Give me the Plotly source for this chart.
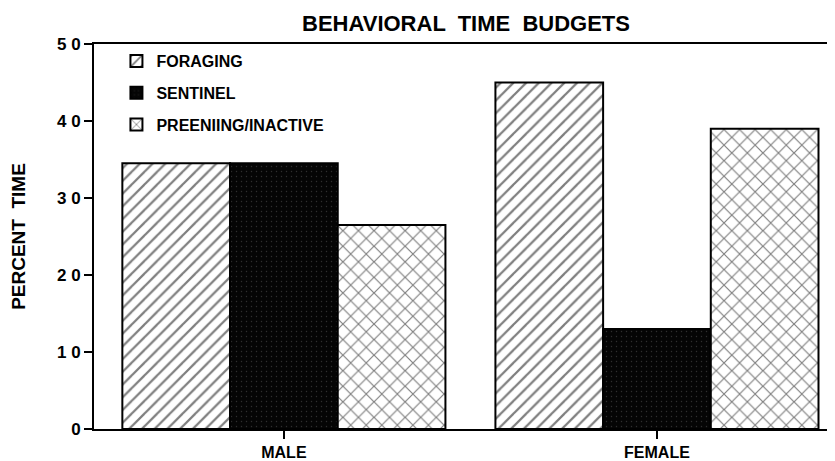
import plotly.graph_objs as go

# data
sexes = ["MALE", "FEMALE"]
foraging = [34.5, 45.0]
sentinel = [34.5, 13.0]
preening = [26.5, 39.0]

y_ticks = [0, 10, 20, 30, 40, 50]
y_ticktext = ["<b>0</b>", "<b>1 0</b>", "<b>2 0</b>", "<b>3 0</b>", "<b>4 0</b>", "<b>5 0</b>"]

FONT = "Liberation Sans, Arial, Helvetica, sans-serif"

fig = go.Figure()

# 1. foraging - diagonal hatch
fig.add_trace(go.Bar(
    x=sexes, y=foraging, name="FORAGING",
    legendgroup="f",
    marker=dict(
        color="white",
        line=dict(color="black", width=2),
        pattern=dict(shape="/", size=9, solidity=0.25,
                     fgcolor="black", bgcolor="white", fillmode="overlay"),
    ),
))
# 2. sentinel - black with light specks
fig.add_trace(go.Bar(
    x=sexes, y=sentinel, name="SENTINEL",
    legendgroup="s",
    marker=dict(
        color="#050505",
        line=dict(color="black", width=2),
        pattern=dict(shape=".", size=5, solidity=0.06,
                     fgcolor="#5a5a5a", bgcolor="#050505", fillmode="overlay"),
    ),
))
# 3. preening/inactive - short dashes
fig.add_trace(go.Bar(
    x=sexes, y=preening, name="PREENIING/INACTIVE",
    legendgroup="p",
    marker=dict(
        color="white",
        line=dict(color="black", width=2),
        pattern=dict(shape="x", size=11, solidity=0.2,
                     fgcolor="black", bgcolor="white", fillmode="overlay"),
    ),
))

fig.update_layout(
    width=835, height=461,
    margin=dict(l=86, r=1, t=36, b=40),
    paper_bgcolor="white",
    plot_bgcolor="white",
    barmode="group",
    bargap=0.134,
    bargroupgap=0,
    font=dict(family=FONT, color="black", size=14, weight="bold"),
    title=dict(
        text="<b>BEHAVIORAL  TIME  BUDGETS</b>",
        x=458 / 835, xanchor="center", xref="container",
        y=1 - 15 / 461, yanchor="middle", yref="container",
        font=dict(family=FONT, size=22, color="black"),
    ),
    showlegend=True,
    legend=dict(
        x=0.03, y=1.0, xanchor="left", yanchor="top",
        bgcolor="rgba(0,0,0,0)",
        font=dict(family=FONT, size=16, weight="bold", color="black"),
        tracegroupgap=8,
        traceorder="grouped",
    ),
    xaxis=dict(
        range=[-0.509, 1.496],
        tickvals=sexes,
        ticktext=["<b>" + s + "</b>" for s in sexes],
        showline=True, linecolor="black", linewidth=2,
        mirror=True,
        ticks="outside", ticklen=8, tickwidth=2, tickcolor="black",
        tickfont=dict(family=FONT, size=16),
        showgrid=False, zeroline=False,
        fixedrange=True,
    ),
    yaxis=dict(
        range=[0, 50],
        tickvals=y_ticks,
        ticktext=y_ticktext,
        showline=True, linecolor="black", linewidth=2,
        ticks="outside", ticklen=8, tickwidth=2, tickcolor="black",
        tickfont=dict(family=FONT, size=17),
        showgrid=False, zeroline=False,
        title=dict(text="<b>PERCENT  TIME</b>", standoff=26,
                   font=dict(family=FONT, size=19)),
    ),
)

fig.write_html("out.html")
